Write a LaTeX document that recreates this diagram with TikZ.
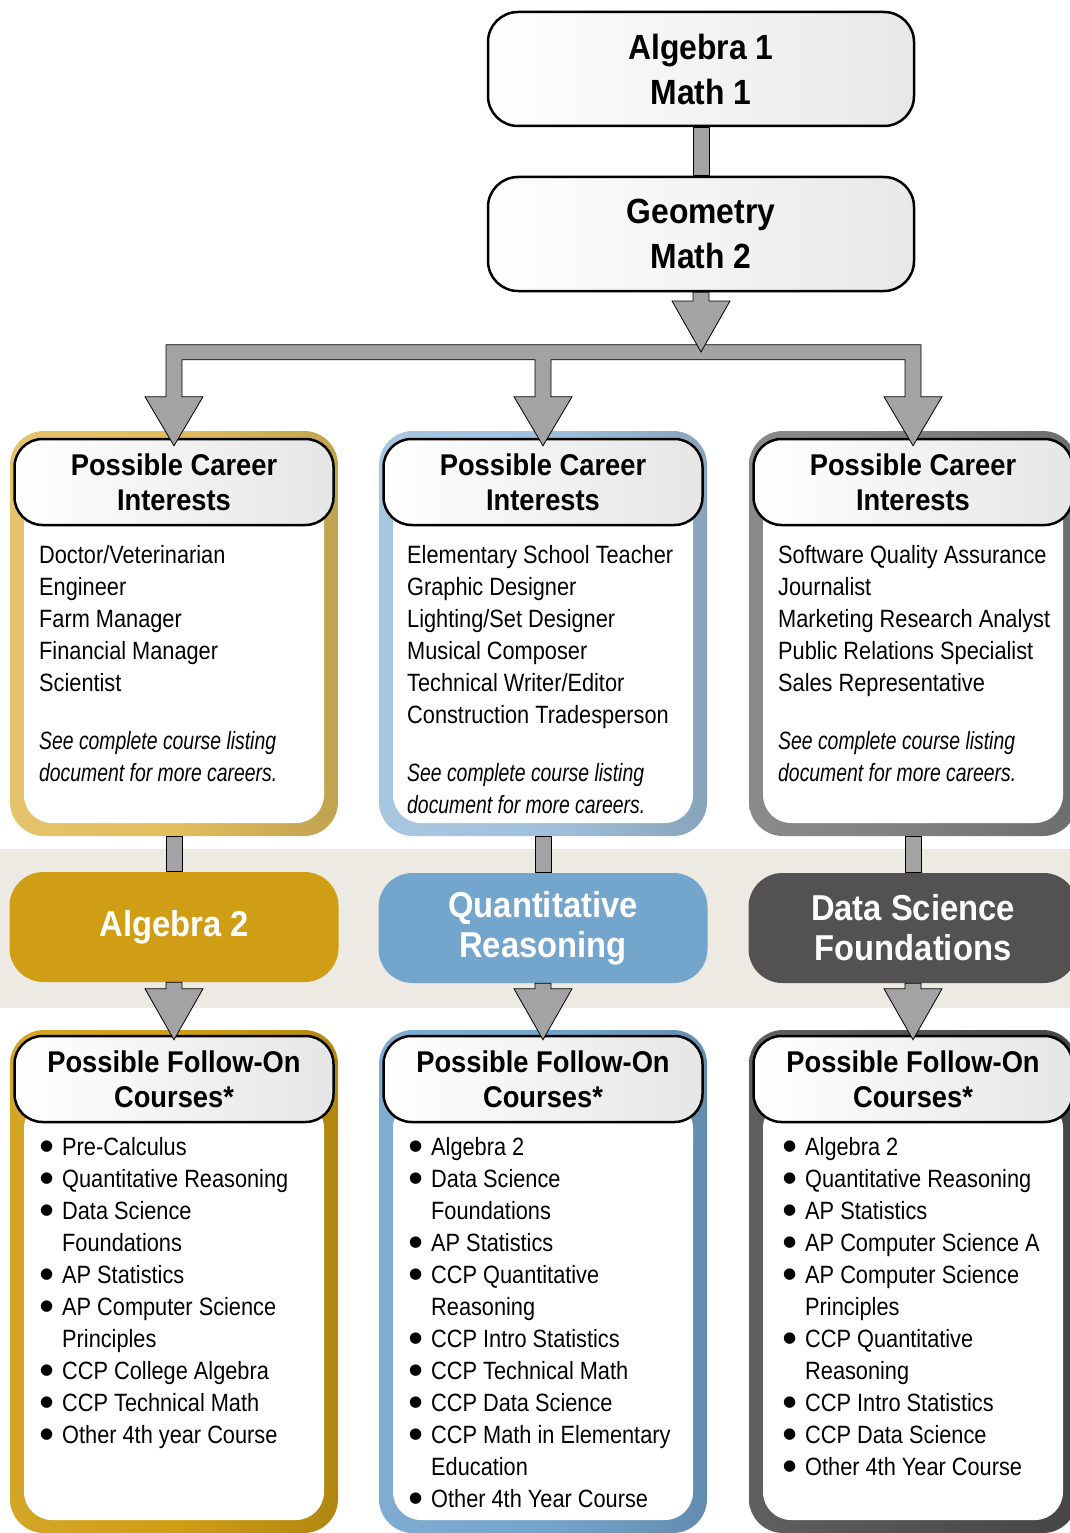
\documentclass[tikz,border=0pt]{standalone}
\usepackage{fontspec}
\setmainfont[UprightFeatures={FakeStretch=0.87}, BoldFeatures={FakeStretch=0.91},
  ItalicFeatures={FakeStretch=0.775}]{Liberation Sans}
\newfontfamily\dotfont{DejaVu Sans}
\usetikzlibrary{calc,positioning}

\definecolor{goldL}{RGB}{226,190,94}
\definecolor{blueL}{RGB}{160,193,221}
\definecolor{greyL}{RGB}{128,128,128}
\definecolor{goldD}{RGB}{208,158,20}
\definecolor{blueD}{RGB}{116,165,205}
\definecolor{greyD}{RGB}{83,81,82}
\definecolor{band}{RGB}{236,234,226}
\definecolor{connGrey}{RGB}{163,163,163}

\newcommand\titlefont{\bfseries\fontsize{35}{45}\selectfont}
\newcommand\headfont{\bfseries\fontsize{30}{35}\selectfont}
\newcommand\coursefont{\bfseries\fontsize{36}{40}\selectfont}
\newcommand\listfont{\fontsize{25}{32}\selectfont}
\newcommand\itm[1]{\makebox[23pt][l]{\hspace*{1pt}\raisebox{5pt}{\dotfont\fontsize{15}{15}\selectfont ●}}#1}
\newcommand\cnt[1]{\hspace*{23pt}#1}
\newcommand\shaft[2]{\filldraw[conn] ($(#1)+(-8,0)$) rectangle ($(#2)+(8,0)$);}
\newcommand\headarrow[2]{\filldraw[conn] ($(#1)+(-8,0)$) -- ($(#2)+(-8,-46)$) -- ($(#2)+(-29,-46)$)
  -- ($(#2)+(0,5)$) -- ($(#2)+(29,-46)$) -- ($(#2)+(8,-46)$) -- ($(#1)+(8,0)$) -- cycle;}

\tikzset{
  titlebox/.style={draw=black, line width=2.5pt, rounded corners=30pt, minimum width=426pt,
    minimum height=114pt, left color=white, right color=black!9, align=center,
    font=\titlefont, inner sep=0pt},
  headbox/.style={draw=black, line width=2.5pt, rounded corners=28pt, minimum width=319pt,
    minimum height=86pt, left color=white, right color=black!10, align=center,
    font=\headfont, inner sep=0pt},
  frame/.style={rounded corners=34pt, minimum width=328pt, inner sep=0pt,
    left color=#1!92!white, right color=#1!85!black, middle color=#1},
  paper/.style={fill=white, rounded corners=28pt, minimum width=300pt, inner sep=0pt},
  course/.style={fill=#1, rounded corners=34pt, minimum width=329pt, minimum height=110pt,
    text=white, font=\coursefont, align=center, inner sep=0pt},
  listtxt/.style={anchor=north west, align=left, inner sep=0pt, font=\listfont},
  conn/.style={fill=connGrey, draw=black, line width=0.8pt},
}

\begin{document}
\begin{tikzpicture}[x=1pt, y=-1pt]
  \useasboundingbox (0,0) rectangle (1070,1533);
  \clip (0,0) rectangle (1070,1533);

  % band behind the fourth year courses
  \fill[band] (0,849) rectangle (1070,1008);

  % first two years
  \node[titlebox] (alg1) at (701,69) {Algebra 1\\Math 1};
  \node[titlebox] (geo) at (701,234) {Geometry\\Math 2};
  \shaft{alg1.south}{geo.north}

  % career frames
  \node[frame=goldL, minimum height=405pt] (cf1) at (174,633.5) {};
  \node[frame=blueL, minimum height=405pt] (cf2) at (543,633.5) {};
  \node[frame=greyL, minimum height=405pt] (cf3) at (913,633.5) {};
  \node[paper, minimum height=330pt] (cp1) at (174,658) {};
  \node[paper, minimum height=330pt] (cp2) at (543,658) {};
  \node[paper, minimum height=330pt] (cp3) at (913,658) {};
  \node[headbox] (ch1) at (174,482) {Possible Career\\Interests};
  \node[headbox] (ch2) at (543,482) {Possible Career\\Interests};
  \node[headbox] (ch3) at (913,482) {Possible Career\\Interests};

  \node[listtxt] (ct1) at (39,545) {Doctor/Veterinarian\\Engineer\\Farm Manager\\
    Financial Manager\\Scientist\\[26pt]\textit{See complete course listing}\\
    \textit{document for more careers.}};
  \node[listtxt] (ct2) at (407,545) {Elementary School Teacher\\Graphic Designer\\
    Lighting/Set Designer\\Musical Composer\\Technical Writer/Editor\\
    Construction Tradesperson\\[26pt]\textit{See complete course listing}\\
    \textit{document for more careers.}};
  \node[listtxt] (ct3) at (778,545) {Software Quality Assurance\\Journalist\\
    Marketing Research Analyst\\Public Relations Specialist\\Sales Representative\\[26pt]
    \textit{See complete course listing}\\\textit{document for more careers.}};

  % fourth year courses
  \node[course=goldD] (cb1) at (174,927) {Algebra 2};
  \node[course=blueD] (cb2) at (543,928) {Quantitative\\Reasoning};
  \node[course=greyD] (cb3) at (913,928) {Data Science\\Foundations};

  % follow-on frames
  \node[frame=goldD, minimum height=503pt] (ff1) at (174,1281.5) {};
  \node[frame=blueD, minimum height=503pt] (ff2) at (543,1281.5) {};
  \node[frame=greyD, minimum height=503pt] (ff3) at (913,1281.5) {};
  \node[paper, minimum height=420pt] (fp1) at (174,1310) {};
  \node[paper, minimum height=420pt] (fp2) at (543,1310) {};
  \node[paper, minimum height=420pt] (fp3) at (913,1310) {};
  \node[headbox] (fh1) at (174,1079) {Possible Follow-On\\Courses*};
  \node[headbox] (fh2) at (543,1079) {Possible Follow-On\\Courses*};
  \node[headbox] (fh3) at (913,1079) {Possible Follow-On\\Courses*};

  \node[listtxt] (ft1) at (39,1137) {\itm{Pre-Calculus}\\\itm{Quantitative Reasoning}\\
    \itm{Data Science}\\\cnt{Foundations}\\\itm{AP Statistics}\\\itm{AP Computer Science}\\
    \cnt{Principles}\\\itm{CCP College Algebra}\\\itm{CCP Technical Math}\\
    \itm{Other 4th year Course}};
  \node[listtxt] (ft2) at (408,1137) {\itm{Algebra 2}\\\itm{Data Science}\\\cnt{Foundations}\\
    \itm{AP Statistics}\\\itm{CCP Quantitative}\\\cnt{Reasoning}\\\itm{CCP Intro Statistics}\\
    \itm{CCP Technical Math}\\\itm{CCP Data Science}\\\itm{CCP Math in Elementary}\\
    \cnt{Education}\\\itm{Other 4th Year Course}};
  \node[listtxt] (ft3) at (782,1137) {\itm{Algebra 2}\\\itm{Quantitative Reasoning}\\
    \itm{AP Statistics}\\\itm{AP Computer Science A}\\\itm{AP Computer Science}\\
    \cnt{Principles}\\\itm{CCP Quantitative}\\\cnt{Reasoning}\\\itm{CCP Intro Statistics}\\
    \itm{CCP Data Science}\\\itm{Other 4th Year Course}};

  % connectors
  \coordinate (hub) at (701,347);
  \filldraw[conn] ($(ch1.north)+(-8,-41)$) -- ($(ch1.north)+(-29,-41)$) -- ($(ch1.north)+(0,8)$)
    -- ($(ch1.north)+(29,-41)$) -- ($(ch1.north)+(8,-41)$) -- ($(ch1.north)+(8,-78)$)
    -- ($(ch2.north)+(-8,-78)$) -- ($(ch2.north)+(-8,-41)$) -- ($(ch2.north)+(-29,-41)$)
    -- ($(ch2.north)+(0,8)$) -- ($(ch2.north)+(29,-41)$) -- ($(ch2.north)+(8,-41)$)
    -- ($(ch2.north)+(8,-78)$) -- ($(ch3.north)+(-8,-78)$) -- ($(ch3.north)+(-8,-41)$)
    -- ($(ch3.north)+(-29,-41)$) -- ($(ch3.north)+(0,8)$) -- ($(ch3.north)+(29,-41)$)
    -- ($(ch3.north)+(8,-41)$) -- ($(ch3.north)+(8,-93)$) -- ($(ch1.north)+(-8,-93)$) -- cycle;
  \headarrow{geo.south}{hub}

  \shaft{cf1.south}{cb1.north}
  \shaft{cf2.south}{cb2.north}
  \shaft{cf3.south}{cb3.north}
  \headarrow{cb1.south}{fh1.north}
  \headarrow{cb2.south}{fh2.north}
  \headarrow{cb3.south}{fh3.north}
\end{tikzpicture}
\end{document}
